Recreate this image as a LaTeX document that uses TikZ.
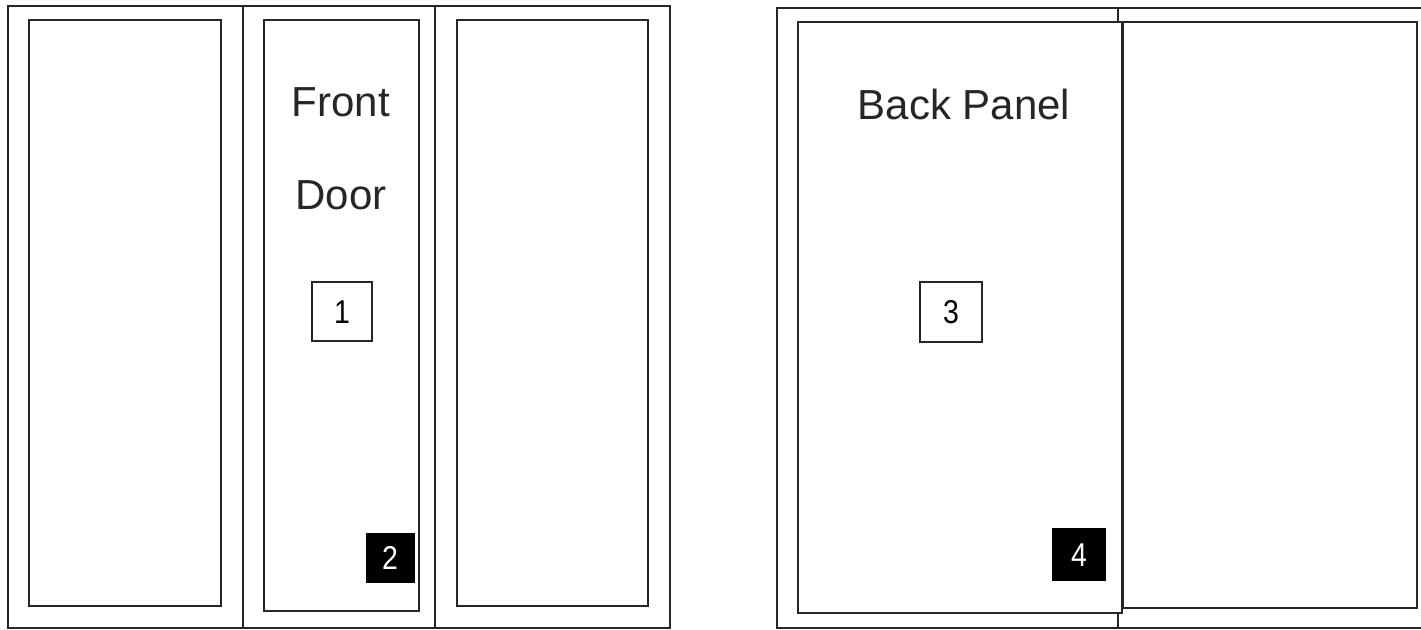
\documentclass[tikz,border=0pt]{standalone}
\usepackage{fontspec}
\usepackage{graphicx}
\setmainfont{Liberation Sans}
\newcommand{\digitlbl}[1]{\scalebox{0.95}[1.1]{#1}}
\begin{document}
\begin{tikzpicture}[x=0.5pt,y=-0.5pt,
  frame/.style={draw=black!85,line width=1pt},
  lbl/.style={inner sep=0pt,text=black!85,font=\fontsize{21}{25}\selectfont},
  numbox/.style={frame,minimum width=30pt,minimum height=29.5pt,inner sep=0pt,font=\fontsize{15}{17}\selectfont},
  blackbox/.style={fill=black,text=white,inner sep=0pt,font=\fontsize{15}{17}\selectfont}]
\useasboundingbox (0,0) rectangle (1421,630);
% left unit
\draw[frame] (8,6) rectangle (670,628);
\draw[frame] (243,6) -- (243,628);
\draw[frame] (435,6) -- (435,628);
\draw[frame] (29,20) rectangle (221,606);
\draw[frame] (264,20) rectangle (419,611);
\draw[frame] (457,20) rectangle (648,606);
\node[lbl] (front) at (341,102) {Front};
\node[lbl] (door) at (341,195) {Door};
\node[numbox] (n1) at (342,312) {\digitlbl{1}};
\node[blackbox,minimum width=24.5pt,minimum height=25pt] (n2) at (390,558) {\digitlbl{2}};
% right unit
\draw[frame] (1421,8) -- (777,8) -- (777,628) -- (1421,628);
\draw[frame] (1118,8) -- (1118,22);
\draw[frame] (1118,613) -- (1118,628);
\draw[frame] (1123,22) rectangle (1417,608);
\draw[frame] (798,22) rectangle (1122,613);
\node[lbl] (back) at (964,104) {Back Panel};
\node[numbox,minimum width=31pt,minimum height=30pt] (n3) at (951,312) {\digitlbl{3}};
\node[blackbox,minimum width=27pt,minimum height=26.5pt] (n4) at (1079,555) {\digitlbl{4}};
\end{tikzpicture}
\end{document}
